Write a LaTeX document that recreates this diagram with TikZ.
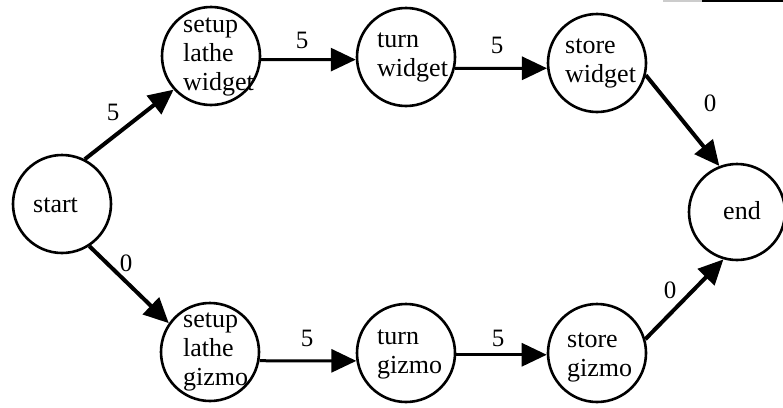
\documentclass[tikz,border=0pt]{standalone}
\usepackage{fontspec}
\setmainfont{Liberation Serif}
\usetikzlibrary{arrows.meta}
\begin{document}
\begin{tikzpicture}[x=1pt,y=-1pt,
  state/.style={circle,draw=black,line width=2.6pt,inner sep=0pt,minimum size=#1},
  state/.default=98pt,
  txt/.style={anchor=west,align=left,inner sep=0pt,font=\fontsize{26}{29}\selectfont},
  lbl/.style={inner sep=0pt,font=\fontsize{25}{25}\selectfont},
  arr/.style={-{Triangle[length=25pt,width=23pt]},line width=#1},
  arr/.default=3pt]
\useasboundingbox (0,0) rectangle (783,407);
% nodes
\node[state] (start) at (62,204) {};
\node[state] (sw) at (211,56) {};
\node[state] (tw) at (406,57) {};
\node[state] (stw) at (597,63) {};
\node[state=96pt] (end) at (737,212) {};
\node[state] (sg) at (210,352) {};
\node[state] (tg) at (406,353) {};
\node[state] (stg) at (597,353) {};
% texts
\node[txt] (tstart) at (33,205) {start};
\node[txt] (tsw) at (183,57) {setup\\lathe\\widget};
\node[txt] (ttw) at (377,57) {turn\\widget};
\node[txt] (tstw) at (565,63) {store\\widget};
\node[txt] (tend) at (723,211) {end};
\node[txt] (tsg) at (183,352) {setup\\lathe\\gizmo};
\node[txt] (ttg) at (377,354) {turn\\gizmo};
\node[txt] (tstg) at (567,357) {store\\gizmo};
% edges
\draw[arr=4pt] (start.63) -- (sw.222);
\draw[arr] (sw.-4) -- (tw.183);
\draw[arr] (tw.-13) -- (stw.186);
\draw[arr=4pt] (stw.-14) -- (end.111);
\draw[arr=4pt] (start.-57) -- (sg.145);
\draw[arr] (sg.-10) -- (tg.189);
\draw[arr] (tg.-2) -- (stg.182);
\draw[arr=4pt] (stg.16) -- (end.254);
% labels
\node[lbl] (l1) at (113,112) {5};
\node[lbl] (l2) at (302,40) {5};
\node[lbl] (l3) at (497,45) {5};
\node[lbl] (l4) at (710,103) {0};
\node[lbl] (l5) at (126,263) {0};
\node[lbl] (l6) at (307,338) {5};
\node[lbl] (l7) at (498,338) {5};
\node[lbl] (l8) at (670,290) {0};
% scan edge at top right
\coordinate (b0) at (663,0.8);
\coordinate (b1) at (702,0.8);
\coordinate (b2) at (783,0.8);
\draw[gray!40,line width=1.5pt] (b0) -- (b1);
\draw[black,line width=1.5pt] (b1) -- (b2);
\end{tikzpicture}
\end{document}
